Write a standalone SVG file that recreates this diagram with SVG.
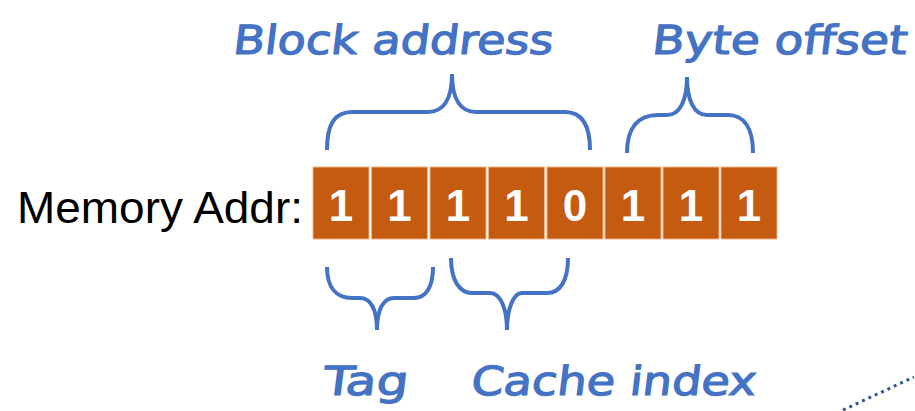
<svg xmlns="http://www.w3.org/2000/svg" width="915" height="411" viewBox="0 0 915 411">
<style>
.cell{fill:#C55A11;stroke:#F4B183;stroke-width:1}
.bit{font-family:"Liberation Sans",Arial,sans-serif;font-weight:bold;font-size:44px;fill:#fff;text-anchor:middle}
.brace{fill:none;stroke:#4472C4;stroke-width:4;stroke-linecap:butt}
.hand{font-family:"DejaVu Sans",sans-serif;font-size:40px;fill:#4472C4;stroke:#4472C4;stroke-width:1.2}
.lbl{font-family:"Liberation Sans",Arial,sans-serif;font-size:44px;fill:#000}
</style>
<rect width="915" height="411" fill="#fff"/>
<g id="label-memory"><text class="lbl" x="17" y="223" textLength="286" lengthAdjust="spacingAndGlyphs">Memory Addr:</text></g>
<g id="bits">
<g id="bit0"><rect class="cell" x="313" y="167" width="56" height="72"/><text class="bit" x="341" y="221">1</text></g>
<g id="bit1"><rect class="cell" x="371.5" y="167" width="56" height="72"/><text class="bit" x="399.5" y="221">1</text></g>
<g id="bit2"><rect class="cell" x="430" y="167" width="56" height="72"/><text class="bit" x="458" y="221">1</text></g>
<g id="bit3"><rect class="cell" x="488.5" y="167" width="56" height="72"/><text class="bit" x="516.5" y="221">1</text></g>
<g id="bit4"><rect class="cell" x="547" y="167" width="56" height="72"/><text class="bit" x="575" y="221">0</text></g>
<g id="bit5"><rect class="cell" x="605" y="167" width="56" height="72"/><text class="bit" x="633" y="221">1</text></g>
<g id="bit6"><rect class="cell" x="663" y="167" width="56" height="72"/><text class="bit" x="691" y="221">1</text></g>
<g id="bit7"><rect class="cell" x="721" y="167" width="56" height="72"/><text class="bit" x="749" y="221">1</text></g>
</g>
<g id="connectors">
<path class="brace" d="M327,150 C327,125 334,112 352,112 L428,112 C443,112 452,100 452,74 C452,100 461,112 476,112 L565,112 C582,112 590,125 590,150"/>
<path class="brace" d="M627,153 C627,128 638,115 658,115 L667,115 C680,115 687,100 687,77 C687,100 694,115 707,115 L728,115 C744,115 753,128 753,153"/>
<path class="brace" d="M327,267 C327,287 336,298 352,298 L360,298 C371,298 377,310 377,330 C377,310 383,298 394,298 L414,298 C426,298 433,287 433,267"/>
<path class="brace" d="M451,258 C451,281 460,293 472,293 L490,293 C501,293 507,310 507,330 C507,310 513,293 522,293 L547,293 C560,293 568,281 568,258"/>
<path d="M843,410 L914,377" fill="none" stroke="#2F5597" stroke-width="3" stroke-dasharray="3 4"/>
</g>
<g id="label-block" transform="translate(232,54) skewX(-7)"><text class="hand" x="0" y="0" textLength="320" lengthAdjust="spacingAndGlyphs">Block address</text></g>
<g id="label-byte" transform="translate(651,54) skewX(-7)"><text class="hand" x="0" y="0" textLength="255" lengthAdjust="spacingAndGlyphs">Byte offset</text></g>
<g id="label-tag" transform="translate(322,395) skewX(-7)"><text class="hand" x="0" y="0" textLength="85" lengthAdjust="spacingAndGlyphs">Tag</text></g>
<g id="label-cache" transform="translate(470,395) skewX(-7)"><text class="hand" x="0" y="0" textLength="285" lengthAdjust="spacingAndGlyphs">Cache index</text></g>
</svg>
